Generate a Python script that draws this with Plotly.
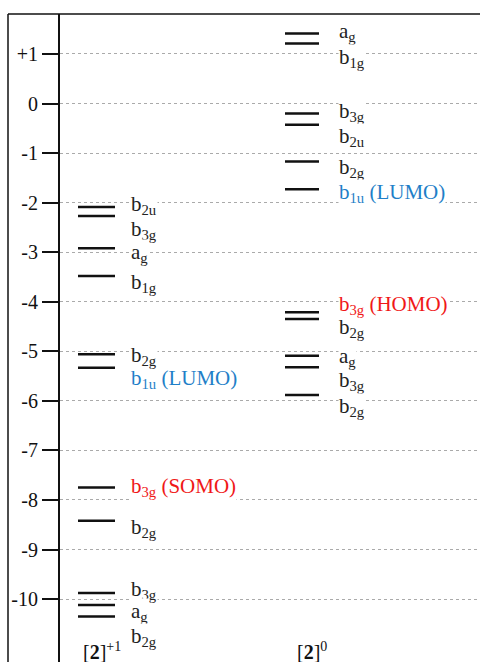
import plotly.graph_objects as go

# ---- data ----
cation_energies = [-2.09, -2.27, -2.92, -3.48, -5.06, -5.33, -7.75, -8.42, -9.88, -10.12, -10.35]
cation_labels = ["b<sub>2u</sub>", "b<sub>3g</sub>", "a<sub>g</sub>", "b<sub>1g</sub>", "b<sub>2g</sub>",
                 "b<sub>1u</sub> (LUMO)", "b<sub>3g</sub> (SOMO)", "b<sub>2g</sub>", "b<sub>3g</sub>",
                 "a<sub>g</sub>", "b<sub>2g</sub>"]
cation_label_y = [-2.05, -2.55, -3.02, -3.62, -5.09, -5.55, -7.73, -8.56, -9.81, -10.27, -10.76]
cation_colors = ["#222", "#222", "#222", "#222", "#222", "#1f7fc8", "#f01818", "#222", "#222", "#222", "#222"]

neutral_energies = [1.415, 1.21, -0.20, -0.43, -1.17, -1.73, -4.21, -4.35, -5.09, -5.32, -5.88]
neutral_labels = ["a<sub>g</sub>", "b<sub>1g</sub>", "b<sub>3g</sub>", "b<sub>2u</sub>", "b<sub>2g</sub>",
                  "b<sub>1u</sub> (LUMO)", "b<sub>3g</sub> (HOMO)", "b<sub>2g</sub>", "a<sub>g</sub>",
                  "b<sub>3g</sub>", "b<sub>2g</sub>"]
neutral_label_y = [1.44, 0.92, -0.17, -0.68, -1.30, -1.80, -4.06, -4.52, -5.11, -5.59, -6.13]
neutral_colors = ["#222", "#222", "#222", "#222", "#222", "#1f7fc8", "#f01818", "#222", "#222", "#222", "#222"]

tick_vals = [1, 0, -1, -2, -3, -4, -5, -6, -7, -8, -9, -10]
tick_text = ["+1", "0", "-1", "-2", "-3", "-4", "-5", "-6", "-7", "-8", "-9", "-10"]

column_titles = ["[<b>2</b>]<sup>+1</sup>", "[<b>2</b>]<sup>0</sup>"]

# ---- layout constants ----
FONT = "Liberation Serif"
cols = [(18, 55, 70), (225, 259, 278)]  # level x0, x1, label x
title_x = [42, 252]
title_y = -11.05
# labels whose white background would hide a neighbouring label
no_bg = {(0, 5), (1, 7), (1, 9)}


def seg(energies, x0, x1):
    xs, ys = [], []
    for e in energies:
        xs += [x0, x1, None]
        ys += [e, e, None]
    return xs, ys


fig = go.Figure()
for energies, (x0, x1, _) in zip([cation_energies, neutral_energies], cols):
    xs, ys = seg(energies, x0, x1)
    fig.add_trace(go.Scatter(x=xs, y=ys, mode="lines",
                             line=dict(color="#111", width=2.5),
                             hoverinfo="skip", showlegend=False))

annotations = []
for ci, (labels, ly, colors, (_, _, lx)) in enumerate(
        [(cation_labels, cation_label_y, cation_colors, cols[0]),
         (neutral_labels, neutral_label_y, neutral_colors, cols[1])]):
    for i, (t, y, c) in enumerate(zip(labels, ly, colors)):
        bg = "rgba(0,0,0,0)" if (ci, i) in no_bg else "white"
        annotations.append(dict(x=lx, y=y, text=t, showarrow=False, xanchor="left", yanchor="middle",
                                font=dict(family=FONT, size=21, color=c), bgcolor=bg,
                                borderpad=0))
for t, x in zip(column_titles, title_x):
    annotations.append(dict(x=x, y=title_y, text=t, showarrow=False, xanchor="center", yanchor="middle",
                            font=dict(family=FONT, size=20, color="#111")))

fx = (8 - 60) / 420
shapes = [
    dict(type="line", xref="paper", yref="paper", x0=fx, x1=1.01, y0=1, y1=1,
         line=dict(color="#111", width=1.5)),
    dict(type="line", xref="paper", yref="paper", x0=fx, x1=fx, y0=1, y1=-0.02,
         line=dict(color="#111", width=1.5)),
]

fig.update_layout(
    width=480, height=662,
    margin=dict(l=60, r=0, t=14, b=0),
    paper_bgcolor="white", plot_bgcolor="white",
    xaxis=dict(range=[0, 420], visible=False, fixedrange=True),
    yaxis=dict(range=[-11.27, 1.807], tickvals=tick_vals, ticktext=tick_text,
               ticks="outside", ticklen=16, tickwidth=2, tickcolor="#111",
               showline=True, linewidth=2, linecolor="#111",
               showgrid=True, gridcolor="#aaa", gridwidth=1, griddash="dot",
               zeroline=False, tickfont=dict(family=FONT, size=20, color="#111")),
    annotations=annotations,
    shapes=shapes,
    showlegend=False,
)

fig.write_html("out.html")
